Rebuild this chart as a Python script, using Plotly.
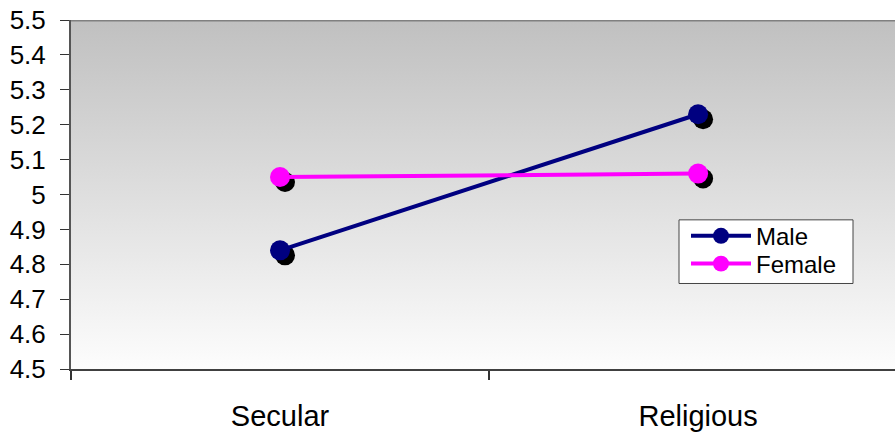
import plotly.graph_objects as go

categories = ["Secular", "Religious"]
male = [4.84, 5.23]
female = [5.05, 5.06]
series_names = ["Male", "Female"]
series_colors = ["#000080", "#ff00ff"]
y_ticks = [4.5, 4.6, 4.7, 4.8, 4.9, 5.0, 5.1, 5.2, 5.3, 5.4, 5.5]
y_labels = ["4.5", "4.6", "4.7", "4.8", "4.9", "5", "5.1", "5.2", "5.3", "5.4", "5.5"]

W, H = 895, 432
ML, MR, MT, MB = 71, 0, 20, 61
xr = [-0.5, 1.471]
yr = [4.5, 5.5]
pw = W - ML - MR
ph = H - MT - MB
# shadow offset in pixels -> data units
dx = 5 * (xr[1] - xr[0]) / pw
dy = -5 * (yr[1] - yr[0]) / ph

xs = list(range(len(categories)))
FONT = "Liberation Sans, Arial, sans-serif"


def px(x):
    return (x - ML) / pw


def py(y):
    return (H - MB - y) / ph


fig = go.Figure()
# gradient background
fig.add_trace(go.Scatter(
    x=[xr[0], xr[1], xr[1], xr[0], xr[0]], y=[yr[0], yr[0], yr[1], yr[1], yr[0]],
    fill="toself", mode="lines", line=dict(width=0), hoverinfo="skip", showlegend=False,
    fillgradient=dict(type="vertical", start=yr[0], stop=yr[1],
                      colorscale=[[0, "#fdfdfd"], [1, "#c0c0c0"]]),
))
for vals in (male, female):
    fig.add_trace(go.Scatter(
        x=[v + dx for v in xs], y=[v + dy for v in vals], mode="markers",
        marker=dict(size=20, color="black"), showlegend=False, hoverinfo="skip"))
for name, vals, col in zip(series_names, (male, female), series_colors):
    fig.add_trace(go.Scatter(x=xs, y=vals, mode="lines+markers", name=name,
                             line=dict(color=col, width=4),
                             marker=dict(size=20, color=col), showlegend=False))

fig.add_shape(type="line", xref="x", yref="y", x0=xr[0], x1=xr[1], y0=yr[1], y1=yr[1],
              line=dict(color="#808080", width=3), layer="above")

# legend box drawn like the original
fig.add_shape(type="rect", xref="paper", yref="paper", x0=px(679), x1=px(853),
              y0=py(285), y1=py(221), fillcolor="white",
              line=dict(color="#444444", width=1), layer="above")
for i, (name, col) in enumerate(zip(series_names, series_colors)):
    yc = 237 + i * 28
    fig.add_shape(type="line", xref="paper", yref="paper", x0=px(691), x1=px(751),
                  y0=py(yc), y1=py(yc), line=dict(color=col, width=4), layer="above")
    r = 8
    fig.add_shape(type="circle", xref="paper", yref="paper", x0=px(721 - r), x1=px(721 + r),
                  y0=py(yc + r), y1=py(yc - r), fillcolor=col, line=dict(color=col, width=0),
                  layer="above")
    fig.add_annotation(xref="paper", yref="paper", x=px(755), y=py(yc + 1), text=name,
                       showarrow=False, xanchor="left", yanchor="middle",
                       valign="middle", borderpad=0,
                       font=dict(size=24, family=FONT, color="black"))

fig.update_layout(
    width=W, height=H,
    margin=dict(l=ML, r=MR, t=MT, b=MB, pad=0),
    paper_bgcolor="white", plot_bgcolor="white",
    font=dict(family=FONT, color="black"),
    showlegend=False,
    xaxis=dict(range=xr, tickmode="array", tickvals=xs, ticktext=categories,
               ticks="outside", ticklen=0, showgrid=False, zeroline=False,
               showline=True, linecolor="#404040", linewidth=2,
               tickfont=dict(size=29, family=FONT), ticklabelstandoff=20,
               minor=dict(tickmode="array", tickvals=[-0.5, 0.5, 1.5], ticks="outside",
                          ticklen=9, tickwidth=2, tickcolor="#333333", showgrid=False)),
    yaxis=dict(range=yr, tickmode="array", tickvals=y_ticks, ticktext=y_labels,
               ticks="outside", ticklen=9, tickwidth=1, tickcolor="#333333",
               showgrid=True, gridcolor="#404040", gridwidth=1, zeroline=False,
               showline=True, linecolor="#555555", linewidth=2,
               tickfont=dict(size=26, family=FONT), ticklabelstandoff=9),
)

fig.write_html("out.html", config={"displayModeBar": False},
               post_script="document.body.style.margin='0';")
